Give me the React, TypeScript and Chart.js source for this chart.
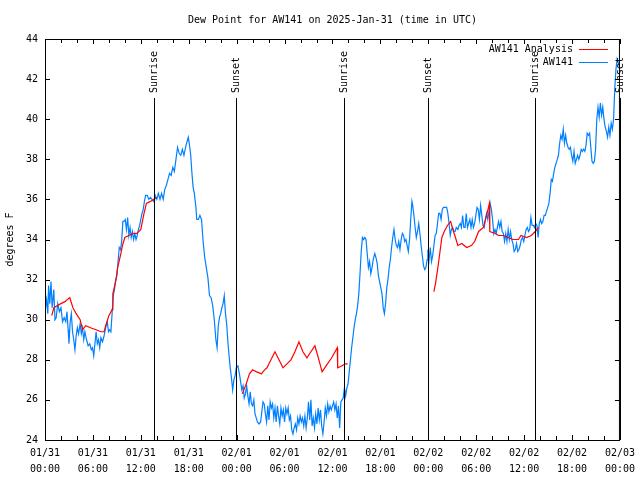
import React, { useEffect, useRef } from "react";
import { Chart, registerables } from "chart.js";

Chart.register(...registerables);

const TITLE = "Dew Point for AW141 on 2025-Jan-31 (time in UTC)";
const Y_TITLE = "degrees F";

// x in hours since 2025-01-31 00:00 UTC
const xTickLabels = [
  ["01/31", "00:00"], ["01/31", "06:00"], ["01/31", "12:00"], ["01/31", "18:00"],
  ["02/01", "00:00"], ["02/01", "06:00"], ["02/01", "12:00"], ["02/01", "18:00"],
  ["02/02", "00:00"], ["02/02", "06:00"], ["02/02", "12:00"], ["02/02", "18:00"],
  ["02/03", "00:00"],
];

const sunTimes = [13.6, 23.97, 37.43, 47.93, 61.39, 71.95];
const sunLabels = ["Sunrise", "Sunset", "Sunrise", "Sunset", "Sunrise", "Sunset"];

const analysisHours = [
  0.84, 1.12, 1.5, 2.0, 2.5, 3.1, 3.5, 3.9, 4.4, 4.7, 5.1, 5.7, 6.4, 7.0, 7.4, 7.6, 8.0, 8.4, 8.5, 8.9,
  9.1, 9.5, 9.7, 10.0, 10.5, 11.0, 11.5, 12.0, 12.4, 12.7, 13.2, 13.6, 14.0,
  19.0,
  24.7, 25.2, 25.6, 26.0, 26.5, 27.1, 27.5, 27.8, 28.3, 28.8, 29.3, 29.8, 30.3, 30.8, 31.3, 31.8, 32.3,
  32.8, 33.3, 33.8, 34.3, 34.7, 35.2, 35.9, 36.6, 36.65, 37.2, 37.6, 37.9,
  43.0,
  48.7, 48.9, 49.2, 49.4, 49.7, 50.0, 50.4, 50.8, 51.0, 51.4, 51.7, 52.2, 52.8, 53.4, 53.8, 54.3, 54.9,
  55.3, 55.65, 55.7, 56.4, 56.8, 57.4, 58.0, 58.6, 59.3, 59.6, 60.3, 60.9, 61.4, 61.8,
];
const analysisValues = [
  30.2, 30.6, 30.7, 30.8, 30.9, 31.1, 30.6, 30.3, 30.0, 29.5, 29.7, 29.6, 29.5, 29.4, 29.4, 29.7, 30.2, 30.5, 31.3, 32.0,
  32.6, 33.3, 33.7, 34.1, 34.2, 34.3, 34.3, 34.5, 35.3, 35.8, 35.9, 36.0, 36.1,
  null,
  26.3, 26.8, 27.3, 27.5, 27.4, 27.3, 27.5, 27.6, 28.0, 28.4, 28.0, 27.6, 27.8, 28.0, 28.4, 28.9, 28.4,
  28.1, 28.4, 28.7, 28.0, 27.4, 27.7, 28.1, 28.6, 27.6, 27.7, 27.8, 27.8,
  null,
  31.4, 31.8, 32.6, 33.2, 34.1, 34.4, 34.7, 34.9, 34.6, 34.1, 33.7, 33.8, 33.6, 33.7, 33.9, 34.4, 34.6,
  35.2, 35.8, 34.4, 34.3, 34.2, 34.2, 34.1, 34.0, 34.0, 34.2, 34.1, 34.2, 34.4, 34.6,
];

const obsHours = [
  0.0, 0.2, 0.35, 0.45, 0.6, 0.75, 0.9, 1.1, 1.25, 1.4, 1.6, 1.8, 2.0, 2.2, 2.4, 2.6, 2.75, 2.9, 3.0, 3.15,
  3.3, 3.45, 3.6, 3.75, 3.9, 4.05, 4.2, 4.4, 4.55, 4.7, 4.85, 5.0, 5.2, 5.4, 5.6, 5.8, 5.95, 6.1, 6.25, 6.4,
  6.55, 6.7, 6.85, 7.0, 7.2, 7.4, 7.6, 7.8, 7.95, 8.1, 8.25, 8.4, 8.55, 8.7, 8.85, 9.0, 9.15, 9.3, 9.45, 9.6,
  9.75, 9.9, 10.05, 10.2, 10.35, 10.5, 10.65, 10.8, 10.95, 11.1, 11.25, 11.4, 11.55, 11.7, 11.85, 12.0, 12.15, 12.3, 12.45, 12.6,
  12.8, 13.0, 13.2, 13.4, 13.6, 13.8, 14.0, 14.2, 14.4, 14.6, 14.8, 15.0, 15.2, 15.4, 15.6, 15.8, 16.0, 16.2, 16.4, 16.6,
  16.8, 17.0, 17.2, 17.4, 17.6, 17.8, 17.95, 18.1, 18.25, 18.4, 18.55, 18.7, 18.9, 19.0, 19.2, 19.4, 19.6, 19.8, 20.0, 20.2,
  20.4, 20.6, 20.8, 21.0, 21.2, 21.4, 21.55, 21.7, 21.85, 22.0, 22.15, 22.3, 22.45, 22.6, 22.75, 22.9, 23.05, 23.2, 23.35, 23.5,
  23.65, 23.8, 23.95, 24.15, 24.35, 24.5, 24.65, 24.8, 24.95, 25.1, 25.25, 25.4, 25.55, 25.7, 25.85, 26.0, 26.15, 26.3, 26.45, 26.6,
  26.8, 27.0, 27.15, 27.3, 27.45, 27.6, 27.75, 27.9, 28.05, 28.2, 28.35, 28.5, 28.65, 28.8, 28.95, 29.1, 29.25, 29.4, 29.55, 29.7,
  29.85, 30.0, 30.15, 30.3, 30.45, 30.6, 30.75, 30.9, 31.05, 31.2, 31.35, 31.5, 31.65, 31.8, 31.95, 32.1, 32.25, 32.4, 32.55, 32.7,
  32.85, 33.0, 33.15, 33.3, 33.45, 33.6, 33.75, 33.9, 34.05, 34.2, 34.35, 34.5, 34.65, 34.8, 34.95, 35.1, 35.25, 35.4, 35.55, 35.7,
  35.85, 36.0, 36.15, 36.3, 36.45, 36.6, 36.75, 36.9, 37.05, 37.2, 37.35, 37.5, 37.65, 37.8, 37.95, 38.1, 38.25, 38.4, 38.55, 38.7,
  38.85, 39.0, 39.15, 39.3, 39.45, 39.6, 39.75, 39.9, 40.05, 40.2, 40.35, 40.5, 40.65, 40.8, 40.95, 41.1, 41.3, 41.45, 41.6, 41.75,
  41.9, 42.05, 42.2, 42.35, 42.5, 42.65, 42.8, 42.95, 43.1, 43.25, 43.4, 43.55, 43.7, 43.85, 44.0, 44.15, 44.3, 44.45, 44.6, 44.75,
  44.9, 45.05, 45.2, 45.35, 45.5, 45.65, 45.8, 45.95, 46.05, 46.2, 46.35, 46.5, 46.65, 46.8, 46.95, 47.1, 47.25, 47.4, 47.55, 47.7,
  47.85, 47.95, 48.1, 48.25, 48.4, 48.55, 48.7, 48.85, 49.0, 49.15, 49.3, 49.45, 49.6, 49.75, 49.9, 50.1, 50.3, 50.45, 50.6, 50.75,
  50.9, 51.05, 51.2, 51.35, 51.5, 51.7, 51.85, 52.0, 52.15, 52.3, 52.45, 52.6, 52.75, 52.9, 53.05, 53.2, 53.35, 53.5, 53.65, 53.8,
  53.95, 54.1, 54.25, 54.4, 54.55, 54.7, 54.85, 55.0, 55.15, 55.3, 55.45, 55.6, 55.75, 55.9, 56.05, 56.2, 56.35, 56.5, 56.65, 56.8,
  56.95, 57.1, 57.25, 57.4, 57.55, 57.7, 57.85, 58.0, 58.15, 58.3, 58.45, 58.6, 58.75, 58.9, 59.05, 59.2, 59.35, 59.5, 59.65, 59.8,
  59.95, 60.1, 60.25, 60.4, 60.55, 60.7, 60.85, 61.0, 61.15, 61.3, 61.45, 61.6, 61.75, 61.9, 62.05, 62.2, 62.35, 62.5, 62.65, 62.8,
  62.95, 63.1, 63.25, 63.4, 63.55, 63.7, 63.85, 64.0, 64.15, 64.3, 64.45, 64.6, 64.75, 64.9, 65.05, 65.2, 65.35, 65.5, 65.65, 65.8,
  65.95, 66.1, 66.25, 66.4, 66.55, 66.7, 66.85, 67.0, 67.15, 67.3, 67.45, 67.6, 67.75, 67.9, 68.05, 68.2, 68.35, 68.5, 68.65, 68.8,
  68.95, 69.1, 69.25, 69.4, 69.55, 69.7, 69.85, 70.0, 70.15, 70.3, 70.45, 70.6, 70.75, 70.9, 71.05, 71.2, 71.35, 71.5, 71.65, 71.8,
  71.95,
];
const obsValues = [
  30.4, 31.0, 30.3, 31.7, 30.8, 31.9, 30.6, 31.5, 30.0, 30.1, 30.8, 30.4, 30.6, 29.9, 30.1, 29.9, 30.4, 29.5, 28.8, 29.9,
  30.3, 29.4, 29.0, 28.5, 29.2, 29.6, 29.3, 29.8, 29.3, 29.6, 29.0, 29.4, 29.0, 28.7, 28.8, 28.5, 28.6, 28.2, 28.8, 29.4,
  28.8, 29.0, 28.6, 29.1, 28.9, 29.2, 29.6, 29.9, 29.4, 29.5, 29.4, 30.3, 31.2, 31.5, 32.0, 32.2, 32.9, 33.6, 33.5, 33.9,
  34.9, 34.9, 35.0, 34.5, 35.1, 34.2, 34.6, 34.1, 34.4, 34.0, 34.3, 34.0, 34.2, 34.5, 34.7, 35.0, 35.3, 35.5, 35.9, 36.2,
  36.2, 36.0, 36.1, 36.0, 35.9, 36.2, 36.0, 36.3, 36.0, 36.3, 36.0, 36.5, 36.7, 37.0, 37.3, 37.2, 37.6, 37.4, 38.0, 38.6,
  38.3, 38.2, 38.5, 38.2, 38.6, 38.9, 39.1, 38.7, 38.2, 37.3, 36.6, 36.3, 35.6, 35.0, 35.0, 35.2, 35.0, 33.9, 33.1, 32.6,
  32.1, 31.2, 31.1, 30.7, 30.0, 29.0, 28.6, 29.7, 30.1, 30.3, 30.6, 30.8, 31.2, 30.3, 29.8, 28.9, 28.2, 27.6, 27.1, 26.5,
  27.0, 27.2, 27.6, 27.7, 27.3, 26.9, 26.5, 26.7, 26.1, 26.3, 26.7, 26.2, 25.8, 26.4, 25.8, 25.7, 26.0, 25.3, 25.1, 24.9,
  24.8, 24.9, 25.4, 25.9, 25.8, 25.3, 24.9, 25.7, 25.0, 25.9, 25.6, 25.8, 25.1, 25.6, 24.9, 25.7, 25.2, 24.8, 25.6, 25.2,
  25.5, 24.9, 25.6, 25.3, 25.6, 25.0, 25.2, 24.5, 24.3, 24.6, 24.8, 24.5, 25.1, 24.8, 25.2, 24.9, 25.1, 24.7, 25.2, 24.6,
  25.1, 25.9, 25.0, 26.0, 24.7, 25.1, 24.6, 25.3, 24.8, 25.6, 25.0, 25.5, 24.7, 24.3, 24.9, 25.6, 25.2, 25.8, 25.4, 25.7,
  25.5, 25.7, 25.9, 25.5, 25.8, 25.1, 25.7, 24.6, 25.9, 26.0, 26.1, 26.6, 26.2, 26.6, 26.8, 27.4, 28.0, 28.6, 29.1, 29.6,
  30.0, 30.3, 30.7, 31.3, 32.3, 33.4, 34.1, 34.0, 34.1, 34.0, 33.3, 32.6, 32.9, 32.3, 32.6, 33.0, 33.3, 33.1, 32.8, 32.2,
  31.9, 31.6, 31.3, 30.6, 30.3, 30.8, 31.6, 32.0, 32.6, 33.0, 33.6, 34.1, 34.5, 34.0, 33.7, 33.6, 33.9, 33.5, 34.0, 34.3,
  34.2, 33.9, 34.0, 33.7, 33.4, 34.0, 35.0, 35.9, 35.7, 35.2, 34.6, 34.1, 34.4, 34.8, 34.3, 33.7, 33.2, 32.7, 32.5, 32.6,
  33.0, 33.5, 33.0, 33.6, 32.9, 33.2, 33.7, 34.2, 34.3, 34.8, 35.3, 35.3, 35.0, 35.5, 35.6, 35.6, 35.6, 35.3, 34.8, 34.2,
  34.5, 34.6, 34.4, 34.4, 34.6, 34.5, 34.7, 34.8, 34.6, 35.2, 34.6, 34.6, 35.3, 34.6, 34.8, 35.0, 34.6, 35.0, 34.6, 34.8,
  35.2, 35.6, 35.5, 35.0, 35.7, 35.2, 34.7, 34.6, 35.0, 35.3, 35.0, 35.4, 35.8, 35.5, 35.0, 34.3, 34.5, 34.3, 34.6, 34.9,
  34.6, 34.9, 34.4, 34.3, 33.9, 34.3, 33.9, 34.5, 34.0, 34.4, 34.0, 33.8, 33.4, 33.5, 33.8, 33.4, 33.5, 33.7, 34.0, 34.1,
  33.9, 34.2, 34.5, 34.6, 34.4, 34.5, 35.1, 34.7, 34.7, 34.6, 34.8, 34.7, 34.1, 34.8, 35.0, 34.8, 34.9, 35.2, 35.2, 35.4,
  35.6, 35.8, 36.3, 37.0, 36.9, 37.3, 37.6, 37.8, 38.0, 38.2, 38.8, 39.2, 39.0, 39.5, 38.8, 39.2, 38.8, 38.6, 38.5, 38.6,
  38.2, 37.9, 38.4, 37.8, 38.0, 38.2, 38.0, 38.2, 38.5, 38.4, 38.5, 38.4, 38.7, 39.3, 39.2, 39.3, 38.6, 37.9, 37.8, 37.9,
  38.5, 40.0, 40.6, 40.1, 40.8, 40.2, 40.6, 40.0, 39.6, 39.4, 39.1, 39.6, 39.2, 39.8, 39.5, 40.0, 41.5, 42.5, 43.0, 42.8,
  42.6,
];

const FONT = "'DejaVu Sans Mono', 'Liberation Mono', monospace";
const RED = "#ff0000";
const BLUE = "#0080ff";

const toPoints = (xs: number[], ys: (number | null)[]) => xs.map((x, i) => ({ x, y: ys[i] }));

const framePlugin = {
  id: "gnuplotFrame",
  afterDatasetsDraw(chart: any) {
    const { ctx, chartArea: a, scales } = chart;
    const xs = scales.x;
    const ys = scales.y;
    ctx.save();
    ctx.strokeStyle = "#000";
    ctx.lineWidth = 1;
    // sunrise / sunset lines
    ctx.fillStyle = "#000";
    ctx.font = `10px ${FONT}`;
    sunTimes.forEach((t, i) => {
      const px = Math.round(xs.getPixelForValue(t)) + 0.5;
      ctx.beginPath();
      ctx.moveTo(px, 98);
      ctx.lineTo(px, a.bottom);
      ctx.stroke();
      ctx.save();
      ctx.translate(px, 93);
      ctx.rotate(-Math.PI / 2);
      ctx.textAlign = "left";
      ctx.textBaseline = "middle";
      ctx.fillText(sunLabels[i], 0, 0);
      ctx.restore();
    });
    // border
    ctx.strokeRect(a.left + 0.5, a.top + 0.5, a.right - a.left - 1, a.bottom - a.top);
    // x ticks (inward, bottom & top)
    for (let h = 0; h <= 72; h += 2) {
      const px = Math.round(xs.getPixelForValue(h)) + 0.5;
      const len = h % 6 === 0 ? 5 : 4;
      ctx.beginPath();
      ctx.moveTo(px, a.bottom);
      ctx.lineTo(px, a.bottom - len);
      ctx.moveTo(px, a.top);
      ctx.lineTo(px, a.top + len);
      ctx.stroke();
    }
    // y ticks (inward, left & right)
    for (let v = 24; v <= 44; v += 2) {
      const py = Math.round(ys.getPixelForValue(v)) + 0.5;
      ctx.beginPath();
      ctx.moveTo(a.left, py);
      ctx.lineTo(a.left + 5, py);
      ctx.moveTo(a.right, py);
      ctx.lineTo(a.right - 5, py);
      ctx.stroke();
    }
    // legend
    chart.data.datasets.forEach((ds: any, i: number) => {
      const y = 49 + i * 13;
      ctx.textAlign = "right";
      ctx.textBaseline = "middle";
      ctx.fillStyle = "#000";
      ctx.fillText(ds.label, a.right - 47, y);
      ctx.strokeStyle = ds.borderColor;
      ctx.beginPath();
      ctx.moveTo(a.right - 41, y + 0.5);
      ctx.lineTo(a.right - 12, y + 0.5);
      ctx.stroke();
    });
    ctx.strokeStyle = "#000";
    // title
    ctx.fillStyle = "#000";
    ctx.textAlign = "center";
    ctx.textBaseline = "middle";
    ctx.fillText(TITLE, (a.left + a.right) / 2, 20);
    ctx.restore();
  },
};

export default function App() {
  const ref = useRef<HTMLCanvasElement | null>(null);
  useEffect(() => {
    if (!ref.current) return;
    const chart = new Chart(ref.current, {
      type: "line",
      data: {
        datasets: [
          {
            label: "AW141 Analysis",
            data: toPoints(analysisHours, analysisValues),
            borderColor: RED,
            backgroundColor: RED,
            borderWidth: 1.2,
            pointRadius: 0,
            tension: 0,
            spanGaps: false,
          },
          {
            label: "AW141",
            data: toPoints(obsHours, obsValues),
            borderColor: BLUE,
            backgroundColor: BLUE,
            borderWidth: 1.2,
            pointRadius: 0,
            tension: 0,
          },
        ],
      },
      options: {
        responsive: false,
        animation: false,
        parsing: true,
        layout: { padding: { top: 39, right: 18, left: 0, bottom: 0 }, autoPadding: false },
        plugins: {
          legend: { display: false },
          title: { display: false },
          tooltip: { enabled: false },
        },
        scales: {
          x: {
            type: "linear",
            min: 0,
            max: 72,
            afterFit: (s: any) => {
              s.height = 40;
            },
            grid: { display: false, drawTicks: false },
            border: { display: false },
            ticks: {
              stepSize: 6,
              autoSkip: false,
              maxRotation: 0,
              padding: 5,
              color: "#000",
              font: { family: FONT, size: 10, lineHeight: 1.6 },
              callback: (v: any) => {
                const idx = Math.round(Number(v) / 6);
                return xTickLabels[idx] ?? "";
              },
            },
          },
          y: {
            type: "linear",
            min: 24,
            max: 44,
            afterFit: (s: any) => {
              s.width = 45;
            },
            grid: { display: false, drawTicks: false },
            border: { display: false },
            title: {
              display: true,
              text: Y_TITLE,
              color: "#000",
              font: { family: FONT, size: 10 },
              padding: { top: 4, bottom: 4 },
            },
            ticks: {
              stepSize: 2,
              padding: 7,
              color: "#000",
              font: { family: FONT, size: 10 },
              callback: (v: any) => String(v),
            },
          },
        },
      },
      plugins: [framePlugin],
    });
    return () => chart.destroy();
  }, []);
  return (
    <div style={{ position: "fixed", left: 0, top: 0, width: 640, height: 480, background: "#fff" }}>
      <canvas ref={ref} width={640} height={480} style={{ width: 640, height: 480 }} />
    </div>
  );
}
